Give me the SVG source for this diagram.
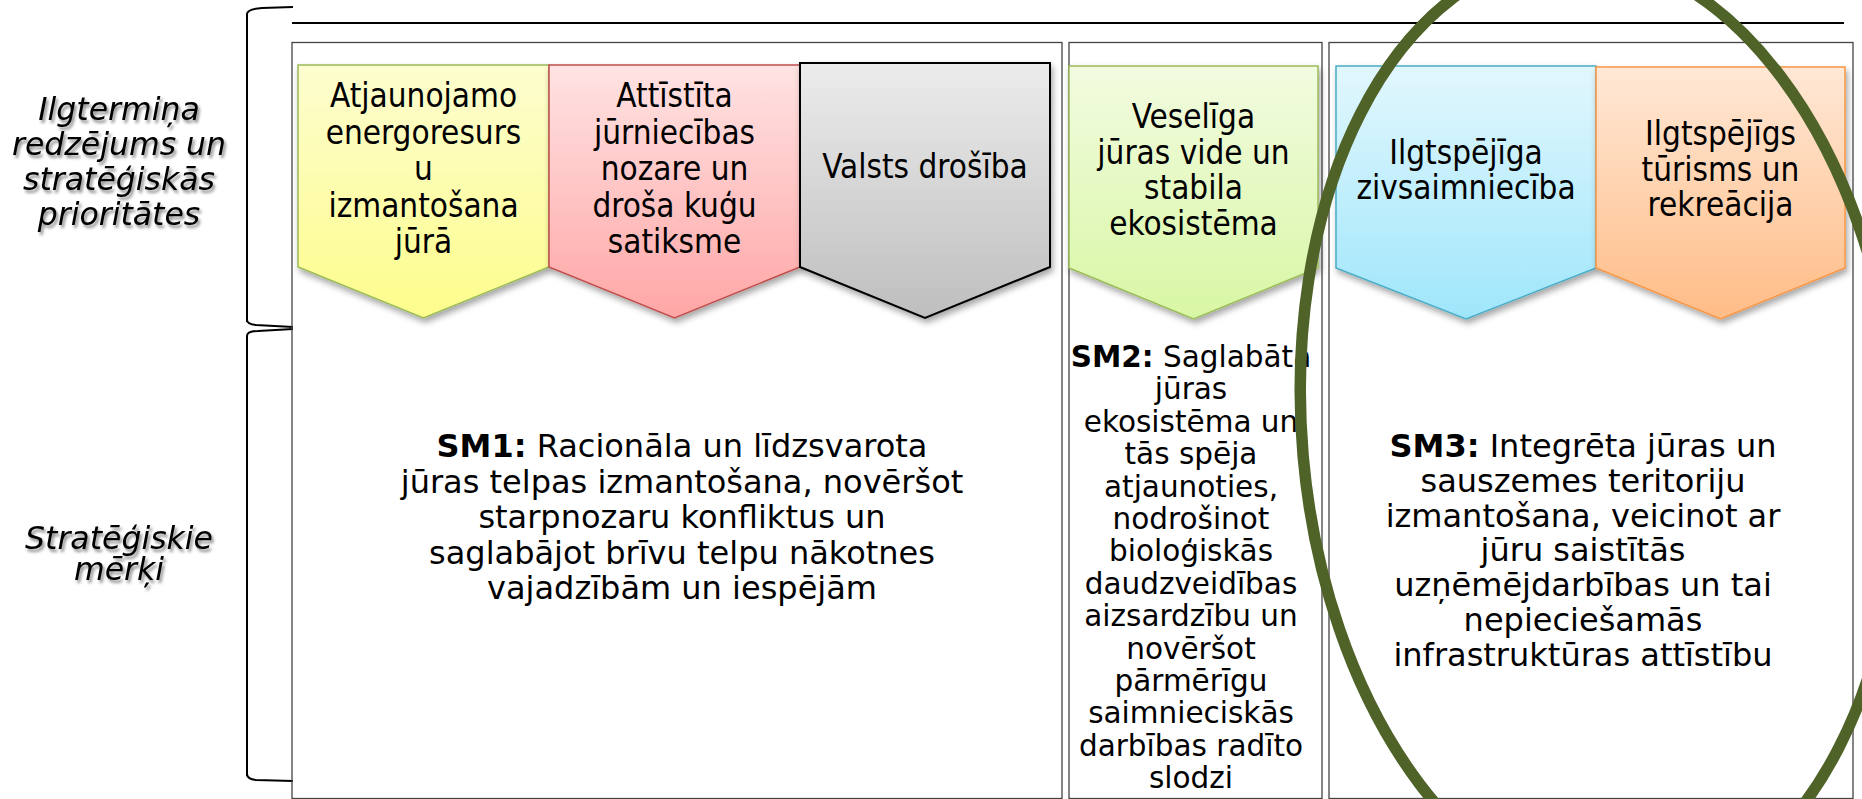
<svg xmlns="http://www.w3.org/2000/svg" width="1862" height="799" viewBox="0 0 1862 799">
<style>
.box{fill:none;stroke:#444;stroke-width:1.3}
.brk{fill:none;stroke:#000;stroke-width:2}
.chv{font-family:"DejaVu Sans Condensed","DejaVu Sans",sans-serif;font-stretch:condensed;font-size:33px;fill:#000;text-anchor:middle}
.sm{font-family:"DejaVu Sans",Verdana,sans-serif;fill:#000;text-anchor:middle}
.lbl{font-family:"DejaVu Sans",Verdana,sans-serif;font-style:italic;font-size:31.5px;fill:#000;text-anchor:middle}
</style>
<defs>
<linearGradient id="gY" x1="0" y1="0" x2="0" y2="1"><stop offset="0" stop-color="#FDFDCF"/><stop offset="1" stop-color="#FDFD8C"/></linearGradient>
<linearGradient id="gR" x1="0" y1="0" x2="0" y2="1"><stop offset="0" stop-color="#FFE3E3"/><stop offset="1" stop-color="#FFA6A6"/></linearGradient>
<linearGradient id="gG" x1="0" y1="0" x2="0" y2="1"><stop offset="0" stop-color="#ECECEC"/><stop offset="1" stop-color="#BEBEBE"/></linearGradient>
<linearGradient id="gL" x1="0" y1="0" x2="0" y2="1"><stop offset="0" stop-color="#F2FBE0"/><stop offset="1" stop-color="#D8F7A4"/></linearGradient>
<linearGradient id="gB" x1="0" y1="0" x2="0" y2="1"><stop offset="0" stop-color="#E2F7FD"/><stop offset="1" stop-color="#9FE6FB"/></linearGradient>
<linearGradient id="gO" x1="0" y1="0" x2="0" y2="1"><stop offset="0" stop-color="#FFE8D6"/><stop offset="1" stop-color="#FFBC86"/></linearGradient>
<filter id="sh" x="-10%" y="-10%" width="130%" height="130%">
<feGaussianBlur in="SourceAlpha" stdDeviation="3"/>
<feOffset dx="2" dy="4" result="b"/>
<feFlood flood-color="#000" flood-opacity="0.35"/>
<feComposite in2="b" operator="in"/>
<feMerge><feMergeNode/><feMergeNode in="SourceGraphic"/></feMerge>
</filter>
<filter id="tsh" x="-10%" y="-20%" width="130%" height="150%">
<feGaussianBlur in="SourceAlpha" stdDeviation="1.5"/>
<feOffset dx="2" dy="3" result="b"/>
<feFlood flood-color="#000" flood-opacity="0.45"/>
<feComposite in2="b" operator="in"/>
<feMerge><feMergeNode/><feMergeNode in="SourceGraphic"/></feMerge>
</filter>
</defs>
<rect width="1862" height="799" fill="#fff"/>

<g id="labels">
<g id="label-vision" filter="url(#tsh)">
<text class="lbl" x="119" y="120">Ilgtermiņa</text>
<text class="lbl" x="119" y="155">redzējums un</text>
<text class="lbl" x="119" y="190">stratēģiskās</text>
<text class="lbl" x="119" y="225">prioritātes</text>
</g>
<g id="label-goals" filter="url(#tsh)">
<text class="lbl" x="119" y="549">Stratēģiskie</text>
<text class="lbl" x="119" y="580">mērķi</text>
</g>
</g>

<g id="brackets">
<path class="brk" d="M247,322 V14 Q247,9 262,8 L293,7"/>
<path class="brk" d="M247,320 Q247,324 256,325 L293,327"/>
<path class="brk" d="M247,776 V336 Q247,331 258,331 L293,329"/>
<path class="brk" d="M247,774 Q247,779 256,780 L293,781"/>
<line x1="292" y1="23" x2="1844" y2="23" stroke="#000" stroke-width="2"/>
</g>

<g id="boxes">
<rect id="box-sm1" class="box" x="292" y="42.5" width="770" height="756"/>
<rect id="box-sm2" class="box" x="1069" y="42.5" width="253" height="756"/>
<rect id="box-sm3" class="box" x="1329" y="42.5" width="524" height="756"/>
</g>

<g id="priorities">
<g id="p-energy">
<path d="M298,65 H549 V267 L423.5,318 L298,267 Z" fill="url(#gY)" stroke="#9BBB59" stroke-width="1.5" filter="url(#sh)"/>
<text class="chv" x="423.5" y="107">Atjaunojamo</text>
<text class="chv" x="423.5" y="143.5">energoresurs</text>
<text class="chv" x="423.5" y="180">u</text>
<text class="chv" x="423.5" y="216.5">izmantošana</text>
<text class="chv" x="423.5" y="253">jūrā</text>
</g>
<g id="p-maritime">
<path d="M549,65 H800 V267 L674.5,318 L549,267 Z" fill="url(#gR)" stroke="#C0504D" stroke-width="1.5" filter="url(#sh)"/>
<text class="chv" x="674.5" y="107">Attīstīta</text>
<text class="chv" x="674.5" y="143.5">jūrniecības</text>
<text class="chv" x="674.5" y="180">nozare un</text>
<text class="chv" x="674.5" y="216.5">droša kuģu</text>
<text class="chv" x="674.5" y="253">satiksme</text>
</g>
<g id="p-security">
<path d="M800,63 H1050 V267 L925,318 L800,267 Z" fill="url(#gG)" stroke="#000" stroke-width="2" filter="url(#sh)"/>
<text class="chv" x="925" y="177.5">Valsts drošība</text>
</g>
<g id="p-environment">
<path d="M1069,66 H1318 V268 L1193.5,319 L1069,268 Z" fill="url(#gL)" stroke="#9BBB59" stroke-width="1.5" filter="url(#sh)"/>
<text class="chv" x="1193.5" y="127.5">Veselīga</text>
<text class="chv" x="1193.5" y="163.5">jūras vide un</text>
<text class="chv" x="1193.5" y="199">stabila</text>
<text class="chv" x="1193.5" y="234.5">ekosistēma</text>
</g>
<g id="p-fishery">
<path d="M1336,66 H1596 V268 L1466,319 L1336,268 Z" fill="url(#gB)" stroke="#4BACC6" stroke-width="1.5" filter="url(#sh)"/>
<text class="chv" x="1466" y="163.5">Ilgtspējīga</text>
<text class="chv" x="1466" y="199">zivsaimniecība</text>
</g>
<g id="p-tourism">
<path d="M1596,67 H1845 V268 L1720.5,319 L1596,268 Z" fill="url(#gO)" stroke="#F79646" stroke-width="1.5" filter="url(#sh)"/>
<text class="chv" x="1720.5" y="145">Ilgtspējīgs</text>
<text class="chv" x="1720.5" y="180.5">tūrisms un</text>
<text class="chv" x="1720.5" y="216">rekreācija</text>
</g>
</g>

<g id="goals">
<g id="sm1" class="sm" font-size="32">
<text x="682" y="457"><tspan font-weight="bold">SM1:</tspan> Racionāla un līdzsvarota</text>
<text x="682" y="492.5">jūras telpas izmantošana, novēršot</text>
<text x="682" y="528">starpnozaru konfliktus un</text>
<text x="682" y="563.5">saglabājot brīvu telpu nākotnes</text>
<text x="682" y="599">vajadzībām un iespējām</text>
</g>
<g id="sm2" class="sm" font-size="29.5">
<text x="1191" y="367"><tspan font-weight="bold">SM2:</tspan> Saglabāta</text>
<text x="1191" y="399.4">jūras</text>
<text x="1191" y="431.8">ekosistēma un</text>
<text x="1191" y="464.2">tās spēja</text>
<text x="1191" y="496.6">atjaunoties,</text>
<text x="1191" y="529">nodrošinot</text>
<text x="1191" y="561.4">bioloģiskās</text>
<text x="1191" y="593.8">daudzveidības</text>
<text x="1191" y="626.2">aizsardzību un</text>
<text x="1191" y="658.6">novēršot</text>
<text x="1191" y="691">pārmērīgu</text>
<text x="1191" y="723.4">saimnieciskās</text>
<text x="1191" y="755.8">darbības radīto</text>
<text x="1191" y="788.2">slodzi</text>
</g>
<g id="sm3" class="sm" font-size="32">
<text x="1583" y="457"><tspan font-weight="bold">SM3:</tspan> Integrēta jūras un</text>
<text x="1583" y="491.8">sauszemes teritoriju</text>
<text x="1583" y="526.6">izmantošana, veicinot ar</text>
<text x="1583" y="561.4">jūru saistītās</text>
<text x="1583" y="596.2">uzņēmējdarbības un tai</text>
<text x="1583" y="631">nepieciešamās</text>
<text x="1583" y="665.8">infrastruktūras attīstību</text>
</g>
</g>

<g id="highlight">
<ellipse cx="1600" cy="430" rx="298" ry="476" transform="rotate(-5 1600 430)" fill="none" stroke="#4F6228" stroke-width="11.5"/>
</g>
</svg>
